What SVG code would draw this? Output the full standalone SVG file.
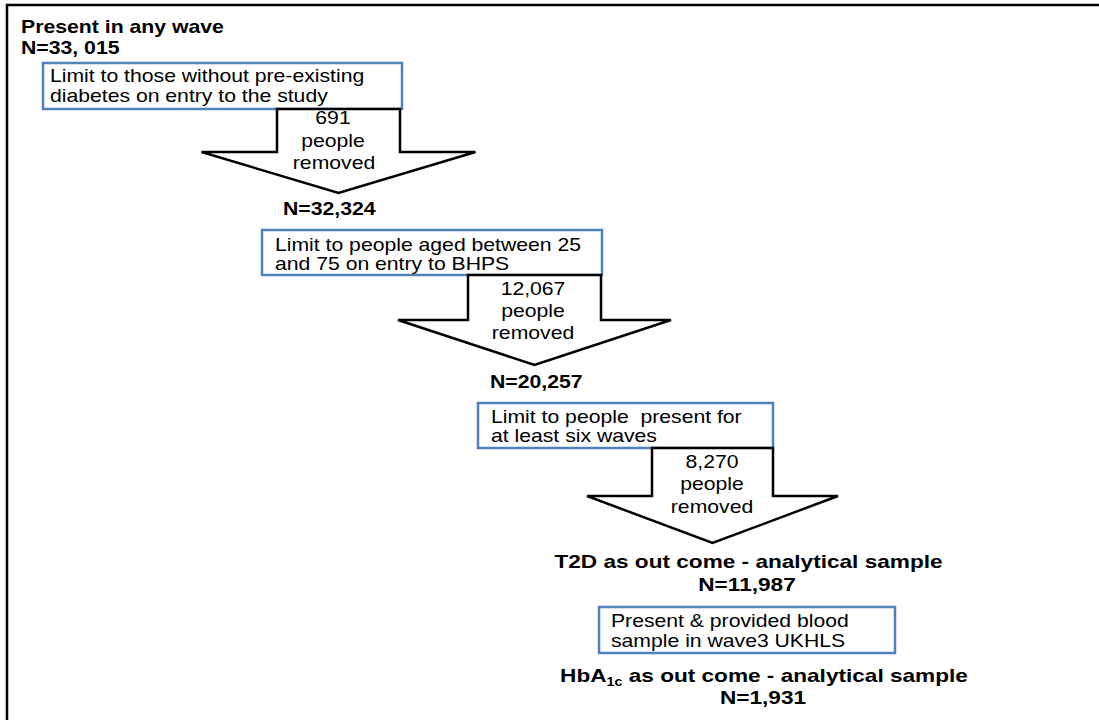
<svg xmlns="http://www.w3.org/2000/svg" width="1099" height="720" viewBox="0 0 1099 720">
<style>
.t{font-family:"Liberation Sans",Arial,sans-serif;font-size:18.5px;fill:#000}
.b{font-weight:bold;font-size:18px}
.bb{font-weight:bold;font-size:19px}
.m{text-anchor:middle}
.box{fill:#fff;stroke:#4F81BD;stroke-width:2.5}
.arr{fill:#fff;stroke:#000;stroke-width:2.5;stroke-linejoin:miter}
.frame{fill:none;stroke:#000;stroke-width:2.5}
</style>
<rect width="1099" height="720" fill="#fff"/>
<path class="frame" d="M7,722 L7,5 L1101,5"/>

<g id="start">
<text class="t b" transform="translate(21,33) scale(1.18,1)">Present in any wave</text>
<text class="t b" transform="translate(21,53.5) scale(1.18,1)">N=33, 015</text>
</g>

<g id="box1">
<rect class="box" x="43" y="63" width="359" height="46"/>
<text class="t" transform="translate(50,82) scale(1.145,1)">Limit to those without pre-existing</text>
<text class="t" transform="translate(50,102) scale(1.145,1)">diabetes on entry to the study</text>
</g>

<g id="n2">
<text class="t b" transform="translate(283,215) scale(1.18,1)">N=32,324</text>
</g>

<g id="box2">
<rect class="box" x="262" y="230" width="340" height="45"/>
<text class="t" transform="translate(275,250.5) scale(1.145,1)">Limit to people aged between 25</text>
<text class="t" transform="translate(275,270) scale(1.145,1)">and 75 on entry to BHPS</text>
</g>

<g id="n3">
<text class="t b" transform="translate(490,388) scale(1.18,1)">N=20,257</text>
</g>

<g id="box3">
<rect class="box" x="478" y="403" width="295" height="45"/>
<text class="t" xml:space="preserve" transform="translate(491,422.5) scale(1.145,1)">Limit to people  present for</text>
<text class="t" transform="translate(491,442) scale(1.145,1)">at least six waves</text>
</g>

<g id="n4">
<text class="t bb m" transform="translate(748.5,568) scale(1.19,1)">T2D as out come - analytical sample</text>
<text class="t bb m" transform="translate(747,591) scale(1.19,1)">N=11,987</text>
</g>

<g id="box4">
<rect class="box" x="599" y="607" width="296" height="46"/>
<text class="t" transform="translate(611,627) scale(1.145,1)">Present &amp; provided blood</text>
<text class="t" transform="translate(611,647) scale(1.145,1)">sample in wave3 UKHLS</text>
</g>

<g id="n5">
<text class="t bb m" transform="translate(764,682) scale(1.19,1)">HbA<tspan font-size="12" dy="4">1c</tspan><tspan dy="-4"> as out come - analytical sample</tspan></text>
<text class="t bb m" transform="translate(763,704) scale(1.19,1)">N=1,931</text>
</g>

<g id="connectors">
<polygon class="arr" points="277,109 400,109 400,152 475.5,152 338.5,193 201.5,152 277,152"/>
<text class="t m" transform="translate(333,124) scale(1.145,1)">691</text>
<text class="t m" transform="translate(333,147) scale(1.145,1)">people</text>
<text class="t m" transform="translate(334,169) scale(1.145,1)">removed</text>

<polygon class="arr" points="468,275 601,275 601,320 671,320 534.5,365 398,320 468,320"/>
<text class="t m" transform="translate(533,295) scale(1.145,1)">12,067</text>
<text class="t m" transform="translate(533,317) scale(1.145,1)">people</text>
<text class="t m" transform="translate(533,339) scale(1.145,1)">removed</text>

<polygon class="arr" points="652,448 773,448 773,496 838,496 712.5,543 587,496 652,496"/>
<text class="t m" transform="translate(712,468) scale(1.145,1)">8,270</text>
<text class="t m" transform="translate(712,490) scale(1.145,1)">people</text>
<text class="t m" transform="translate(712,513) scale(1.145,1)">removed</text>
</g>
</svg>
